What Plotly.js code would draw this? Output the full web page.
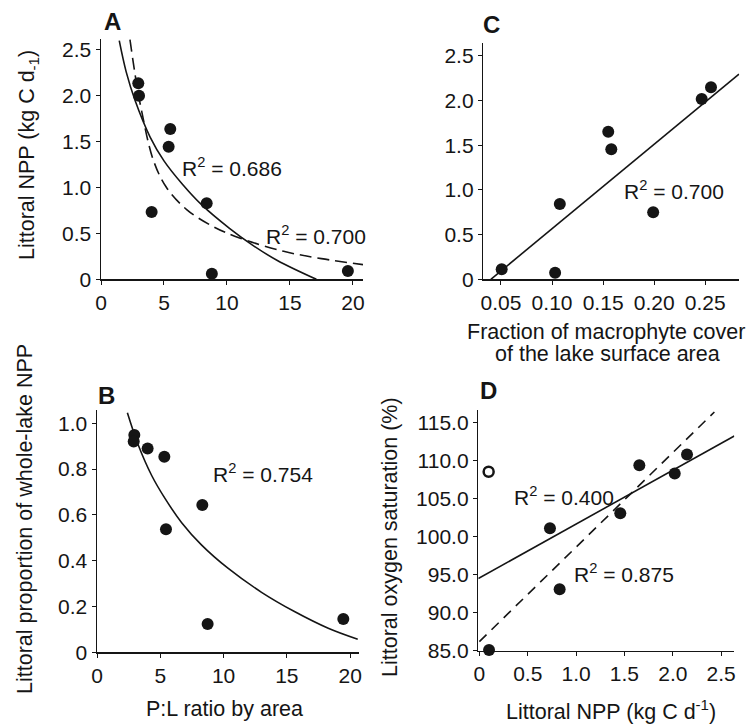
<!DOCTYPE html>
<html>
<head>
<meta charset="utf-8">
<script src="https://cdn.plot.ly/plotly-3.0.1.min.js"></script>
<style>html,body{margin:0;padding:0;background:#fff;}#chart{width:753px;height:724px;}</style>
</head>
<body>
<div id="chart"></div>
<script>
// ---------- Data ----------
// Panel A: P:L ratio vs littoral NPP
const aX = [2.96, 3.02, 5.5, 5.37, 4.02, 8.39, 8.8, 19.6];
const aY = [2.135, 2.0, 1.637, 1.445, 0.733, 0.828, 0.06, 0.09];
const aSolidX = [1.45, 2.0, 2.7, 3.9, 5.0, 6.5, 8.0, 10.2, 12.0, 14.0, 17.1];
const aSolidY = [2.60, 2.26, 1.95, 1.55, 1.29, 1.03, 0.81, 0.555, 0.375, 0.205, 0.0];
const aDashX = [2.3, 2.8, 3.2, 4.15, 5.2, 6.8, 8.9, 11.0, 14.5, 17.5, 20.8];
const aDashY = [2.61, 2.15, 1.85, 1.30, 1.00, 0.76, 0.575, 0.45, 0.305, 0.225, 0.16];
// Panel B: P:L ratio vs littoral proportion
const bX = [2.95, 2.9, 4.0, 5.32, 8.32, 5.45, 8.74, 19.46];
const bY = [0.949, 0.92, 0.89, 0.854, 0.643, 0.537, 0.124, 0.145];
const bCurveX = [2.4, 3.26, 4.32, 5.37, 6.69, 8.27, 10.37, 13.0, 15.6, 18.27, 20.6];
const bCurveY = [1.046, 0.905, 0.772, 0.672, 0.566, 0.468, 0.366, 0.262, 0.178, 0.105, 0.057];
// Panel C: macrophyte cover vs littoral NPP
const cX = [0.0507, 0.103, 0.1076, 0.155, 0.158, 0.199, 0.2465, 0.2556];
const cY = [0.112, 0.074, 0.842, 1.65, 1.454, 0.749, 2.017, 2.148];
const cLineX = [0.0401, 0.283];
const cLineY = [0, 2.296];
// Panel D: littoral NPP vs oxygen saturation
const dX = [0.1, 0.73, 0.83, 1.457, 1.654, 2.02, 2.147];
const dY = [85.1, 101.1, 93.1, 103.08, 109.4, 108.3, 110.8];
const dOpenX = [0.096];
const dOpenY = [108.55];
const dSolidX = [-0.011, 2.636];
const dSolidY = [94.5, 113.25];
const dDashX = [0, 2.43];
const dDashY = [86.2, 116.4];

// Tick values / labels
const aXTicks = [0, 5, 10, 15, 20];
const aXTickText = ["0", "5", "10", "15", "20"];
const aYTicks = [0, 0.5, 1.0, 1.5, 2.0, 2.5];
const aYTickText = ["0", "0.5", "1.0", "1.5", "2.0", "2.5"];
const bYTicks = [0, 0.2, 0.4, 0.6, 0.8, 1.0];
const bYTickText = ["0", "0.2", "0.4", "0.6", "0.8", "1.0"];
const cXTicks = [0.05, 0.10, 0.15, 0.20, 0.25];
const cXTickText = ["0.05", "0.10", "0.15", "0.20", "0.25"];
const dXTicks = [0, 0.5, 1.0, 1.5, 2.0, 2.5];
const dXTickText = ["0", "0.5", "1.0", "1.5", "2.0", "2.5"];
const dYTicks = [85, 90, 95, 100, 105, 110, 115];
const dYTickText = ["85.0", "90.0", "95.0", "100.0", "105.0", "110.0", "115.0"];

// ---------- Layout helpers ----------
const W = 753, H = 724;
const px = v => v / W;
const py = v => 1 - v / H;
const INK = '#151515';
const FONT = 'Liberation Sans, Arial, Helvetica, sans-serif';

const dot = {color: INK, size: 12};
const mk = (x, y, xa, ya, extra) => Object.assign({
  x: x, y: y, xaxis: xa, yaxis: ya, type: 'scatter', mode: 'markers',
  marker: dot, cliponaxis: false, showlegend: false, hoverinfo: 'skip'
}, extra || {});
const ln = (x, y, xa, ya, dash, shape) => ({
  x: x, y: y, xaxis: xa, yaxis: ya, type: 'scatter', mode: 'lines',
  line: {color: INK, width: 1.6, dash: dash || 'solid', shape: shape || 'linear', smoothing: 1},
  showlegend: false, hoverinfo: 'skip'
});

const traces = [
  ln(aSolidX, aSolidY, 'x', 'y', 'solid', 'spline'),
  ln(aDashX, aDashY, 'x', 'y', '12px,6px', 'spline'),
  mk(aX, aY, 'x', 'y'),
  ln(bCurveX, bCurveY, 'x2', 'y2', 'solid', 'spline'),
  mk(bX, bY, 'x2', 'y2'),
  ln(cLineX, cLineY, 'x3', 'y3'),
  mk(cX, cY, 'x3', 'y3'),
  ln(dSolidX, dSolidY, 'x4', 'y4'),
  ln(dDashX, dDashY, 'x4', 'y4', '10px,7px'),
  mk(dX, dY, 'x4', 'y4'),
  mk(dOpenX, dOpenY, 'x4', 'y4', {marker: {color: '#fff', size: 10, line: {color: INK, width: 2.5}}})
];

const axBase = {
  showline: true, linecolor: INK, linewidth: 1.5, mirror: false,
  showgrid: false, zeroline: false, ticks: 'outside', ticklen: 4, tickwidth: 1,
  tickcolor: INK, tickfont: {family: FONT, size: 21, color: INK},
  tickmode: 'array', fixedrange: true
};
const ax = o => Object.assign({}, axBase, o);

const layout = {
  width: W, height: H,
  margin: {l: 0, r: 0, t: 0, b: 0},
  paper_bgcolor: '#fff', plot_bgcolor: '#fff',
  showlegend: false,
  font: {family: FONT, color: INK, size: 21},
  // Panel A
  xaxis: ax({domain: [px(101), px(363)], range: [0, 20.8], anchor: 'y', tickvals: aXTicks, ticktext: aXTickText}),
  yaxis: ax({domain: [py(279.3), py(39)], range: [0, 2.618], anchor: 'x', tickvals: aYTicks, ticktext: aYTickText}),
  // Panel B
  xaxis2: ax({domain: [px(97), px(359)], range: [0, 20.7], anchor: 'y2', tickvals: aXTicks, ticktext: aXTickText}),
  yaxis2: ax({domain: [py(652.3), py(410)], range: [0, 1.058], anchor: 'x2', tickvals: bYTicks, ticktext: bYTickText}),
  // Panel C
  xaxis3: ax({domain: [px(483.3), px(739.3)], range: [0.0327, 0.2833], anchor: 'y3', tickvals: cXTicks, ticktext: cXTickText}),
  yaxis3: ax({domain: [py(279.3), py(43.3)], range: [0, 2.64], anchor: 'x3', tickvals: aYTicks, ticktext: aYTickText}),
  // Panel D
  xaxis4: ax({domain: [px(478.3), px(734.3)], range: [-0.011, 2.636], anchor: 'y4', tickvals: dXTicks, ticktext: dXTickText}),
  yaxis4: ax({domain: [py(650.7), py(410)], range: [85, 116.67], anchor: 'x4', tickvals: dYTicks, ticktext: dYTickText}),
  annotations: []
};

const ann = (text, x, y, opts) => Object.assign({
  text: text, xref: 'paper', yref: 'paper', x: px(x), y: py(y),
  xanchor: 'center', yanchor: 'middle', showarrow: false,
  font: {family: FONT, size: 21, color: INK}
}, opts || {});
const titleFont = {family: FONT, size: 21.5, color: INK};
const letterFont = {family: FONT, size: 24, color: INK};

layout.annotations.push(
  // panel letters
  ann('<b>A</b>', 102, 22, {xanchor: 'left', font: letterFont}),
  ann('<b>B</b>', 96, 395, {xanchor: 'left', font: letterFont}),
  ann('<b>C</b>', 481, 24, {xanchor: 'left', font: letterFont}),
  ann('<b>D</b>', 478, 390, {xanchor: 'left', font: letterFont}),
  // R² labels
  ann('R<sup>2</sup> = 0.686', 231.5, 167),
  ann('R<sup>2</sup> = 0.700', 315.5, 235),
  ann('R<sup>2</sup> = 0.754', 262.5, 473),
  ann('R<sup>2</sup> = 0.700', 673.5, 190),
  ann('R<sup>2</sup> = 0.400', 564, 496),
  ann('R<sup>2</sup> = 0.875', 623.5, 573),
  // axis titles
  ann('Littoral NPP (kg C d<sub>-1</sub>)', 28, 155, {textangle: -90, font: titleFont}),
  ann('Littoral proportion of whole-lake NPP', 25, 519, {textangle: -90, font: titleFont}),
  ann('Littoral oxygen saturation (%)', 390, 537, {textangle: -90, font: titleFont}),
  ann('Fraction of macrophyte cover', 606, 332, {font: titleFont}),
  ann('of the lake surface area', 607, 354, {font: titleFont}),
  ann('P:L ratio by area', 224, 709, {font: titleFont}),
  ann('Littoral NPP (kg C d<sup>-1</sup>)', 611, 710, {font: titleFont})
);

Plotly.newPlot('chart', traces, layout, {staticPlot: true, displayModeBar: false});
</script>
</body>
</html>
